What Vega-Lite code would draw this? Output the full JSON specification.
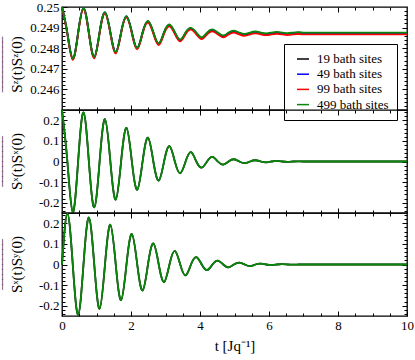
{
  "$schema": "https://vega.github.io/schema/vega-lite/v6.json",
  "padding": {"left": 0, "top": 0, "right": 0, "bottom": 0},
  "background": "white",
  "data": {"values": [
    {"t": 0, "19 bath sites": 0.25, "49 bath sites": 0.25, "99 bath sites": 0.25, "499 bath sites": 0.25, "sxsx": 0.25, "sxsy": 0},
    {"t": 0.156, "19 bath sites": 0.24872, "49 bath sites": 0.24872, "99 bath sites": 0.24867, "499 bath sites": 0.24874, "sxsx": 0, "sxsy": 0.247},
    {"t": 0.312, "19 bath sites": 0.24748, "49 bath sites": 0.24749, "99 bath sites": 0.24743, "499 bath sites": 0.2475, "sxsx": -0.246, "sxsy": 0},
    {"t": 0.467, "19 bath sites": 0.24874, "49 bath sites": 0.24875, "99 bath sites": 0.24869, "499 bath sites": 0.24876, "sxsx": 0, "sxsy": -0.244},
    {"t": 0.623, "19 bath sites": 0.24994, "49 bath sites": 0.24995, "99 bath sites": 0.24989, "499 bath sites": 0.24996, "sxsx": 0.238, "sxsy": 0},
    {"t": 0.779, "19 bath sites": 0.24875, "49 bath sites": 0.24876, "99 bath sites": 0.2487, "499 bath sites": 0.24877, "sxsx": 0, "sxsy": 0.228},
    {"t": 0.935, "19 bath sites": 0.24756, "49 bath sites": 0.24757, "99 bath sites": 0.24751, "499 bath sites": 0.24758, "sxsx": -0.223, "sxsy": 0},
    {"t": 1.09, "19 bath sites": 0.24876, "49 bath sites": 0.24877, "99 bath sites": 0.24871, "499 bath sites": 0.24878, "sxsx": 0, "sxsy": -0.215},
    {"t": 1.246, "19 bath sites": 0.24973, "49 bath sites": 0.24974, "99 bath sites": 0.24968, "499 bath sites": 0.24975, "sxsx": 0.206, "sxsy": 0},
    {"t": 1.402, "19 bath sites": 0.24876, "49 bath sites": 0.24877, "99 bath sites": 0.24871, "499 bath sites": 0.24878, "sxsx": 0, "sxsy": 0.193},
    {"t": 1.558, "19 bath sites": 0.2478, "49 bath sites": 0.24781, "99 bath sites": 0.24775, "499 bath sites": 0.24782, "sxsx": -0.185, "sxsy": 0},
    {"t": 1.713, "19 bath sites": 0.24876, "49 bath sites": 0.24877, "99 bath sites": 0.24871, "499 bath sites": 0.24878, "sxsx": 0, "sxsy": -0.173},
    {"t": 1.869, "19 bath sites": 0.24953, "49 bath sites": 0.24954, "99 bath sites": 0.24948, "499 bath sites": 0.24955, "sxsx": 0.163, "sxsy": 0},
    {"t": 2.025, "19 bath sites": 0.24876, "49 bath sites": 0.24877, "99 bath sites": 0.24871, "499 bath sites": 0.24878, "sxsx": 0, "sxsy": 0.148},
    {"t": 2.181, "19 bath sites": 0.248, "49 bath sites": 0.24801, "99 bath sites": 0.24795, "499 bath sites": 0.24802, "sxsx": -0.137, "sxsy": 0},
    {"t": 2.336, "19 bath sites": 0.24875, "49 bath sites": 0.24876, "99 bath sites": 0.2487, "499 bath sites": 0.24877, "sxsx": 0, "sxsy": -0.126},
    {"t": 2.492, "19 bath sites": 0.24929, "49 bath sites": 0.2493, "99 bath sites": 0.24924, "499 bath sites": 0.24933, "sxsx": 0.116, "sxsy": 0},
    {"t": 2.648, "19 bath sites": 0.24875, "49 bath sites": 0.24876, "99 bath sites": 0.2487, "499 bath sites": 0.24879, "sxsx": 0, "sxsy": 0.102},
    {"t": 2.804, "19 bath sites": 0.2482, "49 bath sites": 0.24821, "99 bath sites": 0.24815, "499 bath sites": 0.24824, "sxsx": -0.093, "sxsy": 0},
    {"t": 2.959, "19 bath sites": 0.24875, "49 bath sites": 0.24876, "99 bath sites": 0.2487, "499 bath sites": 0.24879, "sxsx": 0, "sxsy": -0.085},
    {"t": 3.115, "19 bath sites": 0.24911, "49 bath sites": 0.24912, "99 bath sites": 0.24906, "499 bath sites": 0.24915, "sxsx": 0.075, "sxsy": 0},
    {"t": 3.271, "19 bath sites": 0.24874, "49 bath sites": 0.24875, "99 bath sites": 0.24869, "499 bath sites": 0.24878, "sxsx": 0, "sxsy": 0.066},
    {"t": 3.427, "19 bath sites": 0.24838, "49 bath sites": 0.24839, "99 bath sites": 0.24833, "499 bath sites": 0.24842, "sxsx": -0.057, "sxsy": 0},
    {"t": 3.582, "19 bath sites": 0.24873, "49 bath sites": 0.24874, "99 bath sites": 0.24868, "499 bath sites": 0.24877, "sxsx": 0, "sxsy": -0.053},
    {"t": 3.738, "19 bath sites": 0.24895, "49 bath sites": 0.24896, "99 bath sites": 0.2489, "499 bath sites": 0.24899, "sxsx": 0.045, "sxsy": 0},
    {"t": 3.894, "19 bath sites": 0.24872, "49 bath sites": 0.24873, "99 bath sites": 0.24867, "499 bath sites": 0.24876, "sxsx": 0, "sxsy": 0.036},
    {"t": 4.05, "19 bath sites": 0.24849, "49 bath sites": 0.2485, "99 bath sites": 0.24844, "499 bath sites": 0.24853, "sxsx": -0.03, "sxsy": 0},
    {"t": 4.205, "19 bath sites": 0.24872, "49 bath sites": 0.24873, "99 bath sites": 0.24867, "499 bath sites": 0.24876, "sxsx": 0, "sxsy": -0.027},
    {"t": 4.361, "19 bath sites": 0.24887, "49 bath sites": 0.24888, "99 bath sites": 0.24882, "499 bath sites": 0.24891, "sxsx": 0.022, "sxsy": 0},
    {"t": 4.517, "19 bath sites": 0.24872, "49 bath sites": 0.24873, "99 bath sites": 0.24867, "499 bath sites": 0.24876, "sxsx": 0, "sxsy": 0.019},
    {"t": 4.673, "19 bath sites": 0.24858, "49 bath sites": 0.24859, "99 bath sites": 0.24853, "499 bath sites": 0.24862, "sxsx": -0.015, "sxsy": 0},
    {"t": 4.828, "19 bath sites": 0.24872, "49 bath sites": 0.24873, "99 bath sites": 0.24867, "499 bath sites": 0.24876, "sxsx": 0, "sxsy": -0.014},
    {"t": 4.984, "19 bath sites": 0.24881, "49 bath sites": 0.24882, "99 bath sites": 0.24876, "499 bath sites": 0.24885, "sxsx": 0.011, "sxsy": 0},
    {"t": 5.14, "19 bath sites": 0.24872, "49 bath sites": 0.24873, "99 bath sites": 0.24867, "499 bath sites": 0.24876, "sxsx": 0, "sxsy": 0.009},
    {"t": 5.296, "19 bath sites": 0.24865, "49 bath sites": 0.24866, "99 bath sites": 0.2486, "499 bath sites": 0.24869, "sxsx": -0.008, "sxsy": 0},
    {"t": 5.451, "19 bath sites": 0.24872, "49 bath sites": 0.24873, "99 bath sites": 0.24867, "499 bath sites": 0.24876, "sxsx": 0, "sxsy": -0.008},
    {"t": 5.607, "19 bath sites": 0.24877, "49 bath sites": 0.24878, "99 bath sites": 0.24872, "499 bath sites": 0.24881, "sxsx": 0.006, "sxsy": 0},
    {"t": 5.763, "19 bath sites": 0.24872, "49 bath sites": 0.24873, "99 bath sites": 0.24867, "499 bath sites": 0.24876, "sxsx": 0, "sxsy": 0.004},
    {"t": 5.919, "19 bath sites": 0.24868, "49 bath sites": 0.24869, "99 bath sites": 0.24863, "499 bath sites": 0.24872, "sxsx": -0.004, "sxsy": 0},
    {"t": 6.074, "19 bath sites": 0.24872, "49 bath sites": 0.24873, "99 bath sites": 0.24867, "499 bath sites": 0.24876, "sxsx": 0, "sxsy": -0.003},
    {"t": 6.23, "19 bath sites": 0.24875, "49 bath sites": 0.24876, "99 bath sites": 0.2487, "499 bath sites": 0.24879, "sxsx": 0.003, "sxsy": 0},
    {"t": 6.386, "19 bath sites": 0.24872, "49 bath sites": 0.24873, "99 bath sites": 0.24867, "499 bath sites": 0.24876, "sxsx": 0, "sxsy": 0.002},
    {"t": 6.542, "19 bath sites": 0.24869, "49 bath sites": 0.2487, "99 bath sites": 0.24864, "499 bath sites": 0.24873, "sxsx": -0.002, "sxsy": 0},
    {"t": 6.697, "19 bath sites": 0.24872, "49 bath sites": 0.24873, "99 bath sites": 0.24867, "499 bath sites": 0.24876, "sxsx": 0, "sxsy": -0.001},
    {"t": 6.853, "19 bath sites": 0.24874, "49 bath sites": 0.24875, "99 bath sites": 0.24869, "499 bath sites": 0.24878, "sxsx": 0.001, "sxsy": 0},
    {"t": 7.009, "19 bath sites": 0.24872, "49 bath sites": 0.24873, "99 bath sites": 0.24867, "499 bath sites": 0.24876, "sxsx": 0, "sxsy": 0},
    {"t": 7.5, "19 bath sites": 0.24872, "49 bath sites": 0.24873, "99 bath sites": 0.24867, "499 bath sites": 0.24876, "sxsx": 0, "sxsy": 0},
    {"t": 8, "19 bath sites": 0.24872, "49 bath sites": 0.24873, "99 bath sites": 0.24867, "499 bath sites": 0.24876, "sxsx": 0, "sxsy": 0},
    {"t": 8.5, "19 bath sites": 0.24872, "49 bath sites": 0.24873, "99 bath sites": 0.24867, "499 bath sites": 0.24876, "sxsx": 0, "sxsy": 0},
    {"t": 9, "19 bath sites": 0.24872, "49 bath sites": 0.24873, "99 bath sites": 0.24867, "499 bath sites": 0.24876, "sxsx": 0, "sxsy": 0},
    {"t": 9.5, "19 bath sites": 0.24872, "49 bath sites": 0.24873, "99 bath sites": 0.24867, "499 bath sites": 0.24876, "sxsx": 0, "sxsy": 0},
    {"t": 10, "19 bath sites": 0.24872, "49 bath sites": 0.24873, "99 bath sites": 0.24867, "499 bath sites": 0.24876, "sxsx": 0, "sxsy": 0}
  ]},
  "spacing": 0,
  "bounds": "flush",
  "resolve": {"scale": {"color": "independent"}},
  "vconcat": [
    {
      "width": 345, "height": 103,
      "transform": [{"fold": ["19 bath sites", "49 bath sites", "99 bath sites", "499 bath sites"], "as": ["series", "v"]}],
      "layer": [
        {
          "mark": {"type": "line", "strokeWidth": 1.8, "interpolate": "natural"},
          "encoding": {
            "x": {"field": "t", "type": "quantitative", "scale": {"domain": [0, 10], "nice": false},
                  "axis": {"orient": "bottom", "values": [2, 4, 6, 8], "tickSize": -5, "labels": false, "title": null}},
            "y": {"field": "v", "type": "quantitative", "scale": {"domain": [0.245, 0.25], "zero": false, "nice": false},
                  "axis": {"orient": "left", "values": [0.246, 0.247, 0.248, 0.249, 0.25], "tickSize": -5, "labelPadding": 8, "labelExpr": "'' + datum.value",
                           "title": ["‾‾‾‾‾‾‾‾‾‾‾", "Sᶻ(t)Sᶻ(0)"], "titleX": -48.5, "titleY": 57, "titleAngle": -90, "titleBaseline": "alphabetic", "titleAlign": "center", "titleLineHeight": 7.5}},
            "color": {"field": "series", "type": "nominal",
                      "scale": {"domain": ["19 bath sites", "49 bath sites", "99 bath sites", "499 bath sites"], "range": ["#000000", "#0000ff", "#ff0000", "#0a870a"]},
                      "legend": {"orient": "none", "legendX": 222, "legendY": 37, "title": null, "strokeColor": "black", "fillColor": "white", "padding": 8,
                                 "symbolType": "stroke", "symbolStrokeWidth": 1.5, "symbolSize": 144, "labelFont": "'Liberation Serif', 'Times New Roman', Times, serif", "labelFontSize": 13, "labelColor": "black", "rowPadding": 1.2, "labelOffset": 7, "symbolOffset": 4}}
          }
        },
        {
          "mark": {"type": "line", "strokeOpacity": 0},
          "encoding": {
            "detail": {"field": "series"},
            "x": {"field": "t", "type": "quantitative", "scale": {"domain": [0, 10], "nice": false},
                  "axis": {"orient": "bottom", "values": [0.5, 1, 1.5, 2.5, 3, 3.5, 4.5, 5, 5.5, 6.5, 7, 7.5, 8.5, 9, 9.5], "tickSize": -3, "labels": false, "title": null}},
            "y": {"field": "v", "type": "quantitative", "scale": {"domain": [0.245, 0.25], "zero": false, "nice": false},
                  "axis": {"orient": "left", "values": [0.2452, 0.2454, 0.2456, 0.2458, 0.2462, 0.2464, 0.2466, 0.2468, 0.2472, 0.2474, 0.2476, 0.2478, 0.2482, 0.2484, 0.2486, 0.2488, 0.2492, 0.2494, 0.2496, 0.2498], "tickSize": -3, "labels": false, "title": null}}
          }
        },
        {
          "mark": {"type": "line", "strokeOpacity": 0},
          "encoding": {
            "detail": {"field": "series"},
            "x": {"field": "t", "type": "quantitative", "scale": {"domain": [0, 10], "nice": false},
                  "axis": {"orient": "top", "values": [2, 4, 6, 8], "tickSize": -5, "labels": false, "title": null}},
            "y": {"field": "v", "type": "quantitative", "scale": {"domain": [0.245, 0.25], "zero": false, "nice": false},
                  "axis": {"orient": "right", "values": [0.246, 0.247, 0.248, 0.249], "tickSize": -5, "labels": false, "title": null}}
          }
        },
        {
          "mark": {"type": "line", "strokeOpacity": 0},
          "encoding": {
            "detail": {"field": "series"},
            "x": {"field": "t", "type": "quantitative", "scale": {"domain": [0, 10], "nice": false},
                  "axis": {"orient": "top", "values": [0.5, 1, 1.5, 2.5, 3, 3.5, 4.5, 5, 5.5, 6.5, 7, 7.5, 8.5, 9, 9.5], "tickSize": -3, "labels": false, "title": null}},
            "y": {"field": "v", "type": "quantitative", "scale": {"domain": [0.245, 0.25], "zero": false, "nice": false},
                  "axis": {"orient": "right", "values": [0.2452, 0.2454, 0.2456, 0.2458, 0.2462, 0.2464, 0.2466, 0.2468, 0.2472, 0.2474, 0.2476, 0.2478, 0.2482, 0.2484, 0.2486, 0.2488, 0.2492, 0.2494, 0.2496, 0.2498], "tickSize": -3, "labels": false, "title": null}}
          }
        }
      ],
      "resolve": {"axis": {"x": "independent", "y": "independent"}}
    },
    {
      "width": 345, "height": 103,
      "layer": [
        {
          "mark": {"type": "line", "strokeWidth": 1.8, "interpolate": "natural", "color": "#000000"},
          "encoding": {
            "x": {"field": "t", "type": "quantitative", "scale": {"domain": [0, 10], "nice": false}, "axis": null},
            "y": {"field": "sxsx", "type": "quantitative", "scale": {"domain": [-0.25, 0.25], "nice": false}, "axis": null}
          }
        },
        {
          "mark": {"type": "line", "strokeWidth": 1.8, "interpolate": "natural", "color": "#0a870a"},
          "encoding": {
            "x": {"field": "t", "type": "quantitative", "scale": {"domain": [0, 10], "nice": false},
                  "axis": {"orient": "bottom", "values": [2, 4, 6, 8], "tickSize": -5, "labels": false, "title": null}},
            "y": {"field": "sxsx", "type": "quantitative", "scale": {"domain": [-0.25, 0.25], "nice": false},
                  "axis": {"orient": "left", "values": [-0.2, -0.1, 0, 0.1, 0.2], "tickSize": -5, "labelPadding": 8, "labelExpr": "'' + datum.value",
                           "title": ["‾‾‾‾‾‾‾‾‾‾", "Sˣ(t)Sˣ(0)"], "titleX": -48.5, "titleY": 51, "titleAngle": -90, "titleBaseline": "alphabetic", "titleAlign": "center", "titleLineHeight": 7.5}}
          }
        },
        {
          "mark": {"type": "line", "strokeOpacity": 0},
          "encoding": {
            "x": {"field": "t", "type": "quantitative", "scale": {"domain": [0, 10], "nice": false},
                  "axis": {"orient": "bottom", "values": [0.5, 1, 1.5, 2.5, 3, 3.5, 4.5, 5, 5.5, 6.5, 7, 7.5, 8.5, 9, 9.5], "tickSize": -3, "labels": false, "title": null}},
            "y": {"field": "sxsx", "type": "quantitative", "scale": {"domain": [-0.25, 0.25], "nice": false},
                  "axis": {"orient": "left", "values": [-0.24, -0.22, -0.18, -0.16, -0.14, -0.12, -0.08, -0.06, -0.04, -0.02, 0.02, 0.04, 0.06, 0.08, 0.12, 0.14, 0.16, 0.18, 0.22, 0.24], "tickSize": -3, "labels": false, "title": null}}
          }
        },
        {
          "mark": {"type": "line", "strokeOpacity": 0},
          "encoding": {
            "x": {"field": "t", "type": "quantitative", "scale": {"domain": [0, 10], "nice": false},
                  "axis": {"orient": "top", "values": [2, 4, 6, 8], "tickSize": -5, "labels": false, "title": null}},
            "y": {"field": "sxsx", "type": "quantitative", "scale": {"domain": [-0.25, 0.25], "nice": false},
                  "axis": {"orient": "right", "values": [-0.2, -0.1, 0, 0.1, 0.2], "tickSize": -5, "labels": false, "title": null}}
          }
        },
        {
          "mark": {"type": "line", "strokeOpacity": 0},
          "encoding": {
            "x": {"field": "t", "type": "quantitative", "scale": {"domain": [0, 10], "nice": false},
                  "axis": {"orient": "top", "values": [0.5, 1, 1.5, 2.5, 3, 3.5, 4.5, 5, 5.5, 6.5, 7, 7.5, 8.5, 9, 9.5], "tickSize": -3, "labels": false, "title": null}},
            "y": {"field": "sxsx", "type": "quantitative", "scale": {"domain": [-0.25, 0.25], "nice": false},
                  "axis": {"orient": "right", "values": [-0.24, -0.22, -0.18, -0.16, -0.14, -0.12, -0.08, -0.06, -0.04, -0.02, 0.02, 0.04, 0.06, 0.08, 0.12, 0.14, 0.16, 0.18, 0.22, 0.24], "tickSize": -3, "labels": false, "title": null}}
          }
        }
      ],
      "resolve": {"axis": {"x": "independent", "y": "independent"}}
    },
    {
      "width": 345, "height": 103,
      "layer": [
        {
          "mark": {"type": "line", "strokeWidth": 1.8, "interpolate": "natural", "color": "#000000"},
          "encoding": {
            "x": {"field": "t", "type": "quantitative", "scale": {"domain": [0, 10], "nice": false}, "axis": null},
            "y": {"field": "sxsy", "type": "quantitative", "scale": {"domain": [-0.25, 0.25], "nice": false}, "axis": null}
          }
        },
        {
          "mark": {"type": "line", "strokeWidth": 1.8, "interpolate": "natural", "color": "#0a870a"},
          "encoding": {
            "x": {"field": "t", "type": "quantitative", "scale": {"domain": [0, 10], "nice": false},
                  "axis": {"orient": "bottom", "values": [0, 2, 4, 6, 8, 10], "tickSize": -5, "labelPadding": 8, "title": "t [Jq⁻¹]", "titlePadding": 6}},
            "y": {"field": "sxsy", "type": "quantitative", "scale": {"domain": [-0.25, 0.25], "nice": false},
                  "axis": {"orient": "left", "values": [-0.2, -0.1, 0, 0.1, 0.2], "tickSize": -5, "labelPadding": 8, "labelExpr": "'' + datum.value",
                           "title": ["‾‾‾‾‾‾‾‾‾‾", "Sˣ(t)Sʸ(0)"], "titleX": -48.5, "titleY": 51, "titleAngle": -90, "titleBaseline": "alphabetic", "titleAlign": "center", "titleLineHeight": 7.5}}
          }
        },
        {
          "mark": {"type": "line", "strokeOpacity": 0},
          "encoding": {
            "x": {"field": "t", "type": "quantitative", "scale": {"domain": [0, 10], "nice": false},
                  "axis": {"orient": "bottom", "values": [0.5, 1, 1.5, 2.5, 3, 3.5, 4.5, 5, 5.5, 6.5, 7, 7.5, 8.5, 9, 9.5], "tickSize": -3, "labels": false, "title": null}},
            "y": {"field": "sxsy", "type": "quantitative", "scale": {"domain": [-0.25, 0.25], "nice": false},
                  "axis": {"orient": "left", "values": [-0.24, -0.22, -0.18, -0.16, -0.14, -0.12, -0.08, -0.06, -0.04, -0.02, 0.02, 0.04, 0.06, 0.08, 0.12, 0.14, 0.16, 0.18, 0.22, 0.24], "tickSize": -3, "labels": false, "title": null}}
          }
        },
        {
          "mark": {"type": "line", "strokeOpacity": 0},
          "encoding": {
            "x": {"field": "t", "type": "quantitative", "scale": {"domain": [0, 10], "nice": false},
                  "axis": {"orient": "top", "values": [2, 4, 6, 8], "tickSize": -5, "labels": false, "title": null}},
            "y": {"field": "sxsy", "type": "quantitative", "scale": {"domain": [-0.25, 0.25], "nice": false},
                  "axis": {"orient": "right", "values": [-0.2, -0.1, 0, 0.1, 0.2], "tickSize": -5, "labels": false, "title": null}}
          }
        },
        {
          "mark": {"type": "line", "strokeOpacity": 0},
          "encoding": {
            "x": {"field": "t", "type": "quantitative", "scale": {"domain": [0, 10], "nice": false},
                  "axis": {"orient": "top", "values": [0.5, 1, 1.5, 2.5, 3, 3.5, 4.5, 5, 5.5, 6.5, 7, 7.5, 8.5, 9, 9.5], "tickSize": -3, "labels": false, "title": null}},
            "y": {"field": "sxsy", "type": "quantitative", "scale": {"domain": [-0.25, 0.25], "nice": false},
                  "axis": {"orient": "right", "values": [-0.24, -0.22, -0.18, -0.16, -0.14, -0.12, -0.08, -0.06, -0.04, -0.02, 0.02, 0.04, 0.06, 0.08, 0.12, 0.14, 0.16, 0.18, 0.22, 0.24], "tickSize": -3, "labels": false, "title": null}}
          }
        }
      ],
      "resolve": {"axis": {"x": "independent", "y": "independent"}}
    }
  ],
  "config": {
    "font": "'Liberation Serif', 'Times New Roman', Times, serif",
    "view": {"stroke": "#000000", "strokeWidth": 1.3},
    "axis": {"domain": false, "grid": false, "tickColor": "#000000", "tickWidth": 1, "labelColor": "#000000", "labelFont": "'Liberation Serif', 'Times New Roman', Times, serif", "labelFontSize": 13,
             "labelFlush": false, "labelOverlap": false, "titleFont": "'Liberation Serif', 'Times New Roman', Times, serif", "titleFontSize": 15, "titleFontWeight": "normal", "titleColor": "#000000"}
  }
}
